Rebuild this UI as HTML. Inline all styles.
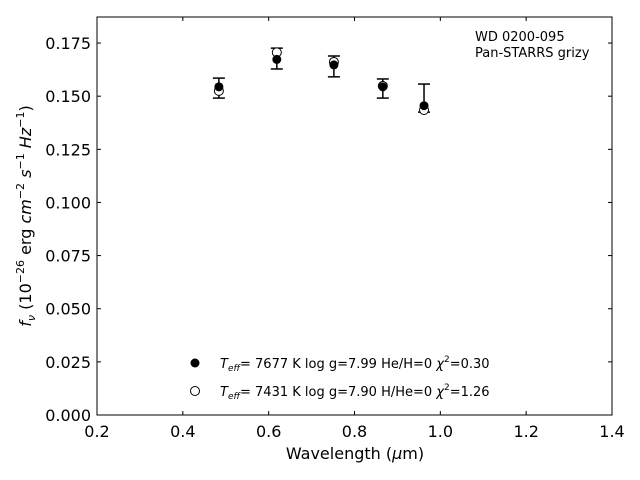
<!DOCTYPE html>
<html><head><meta charset="utf-8"><style>
html,body{margin:0;padding:0;background:#fff;}
svg{display:block;font-family:"DejaVu Sans","Liberation Sans",sans-serif;}
</style></head><body>
<svg id="chart" width="640" height="480" viewBox="0 0 640 480">
<rect x="0" y="0" width="640" height="480" fill="#fff"/>
<g id="marks"></g>
<rect x="97" y="17" width="515" height="398" fill="none" stroke="#000" stroke-width="1"/>
<g id="axes"></g>
<text x="355" y="459" text-anchor="middle" font-size="16">Wavelength (<tspan font-style="italic">μ</tspan>m)</text>
<text transform="translate(31,216) rotate(-90)" text-anchor="middle" font-size="16"><tspan font-style="italic">f</tspan><tspan font-style="italic" font-size="11" dy="4">ν</tspan><tspan dy="-4"> (10</tspan><tspan font-size="11" dy="-7">−26</tspan><tspan dy="7"> erg </tspan><tspan font-style="italic">cm</tspan><tspan font-size="11" dy="-7">−2</tspan><tspan dy="7"> </tspan><tspan font-style="italic">s</tspan><tspan font-size="11" dy="-7">−1</tspan><tspan dy="7"> </tspan><tspan font-style="italic">Hz</tspan><tspan font-size="11" dy="-7">−1</tspan><tspan dy="7">)</tspan></text>
<text x="475" y="41" font-size="13">WD 0200-095</text>
<text x="475" y="57" font-size="13">Pan-STARRS grizy</text>
<g>
<circle cx="195" cy="363" r="4.5" fill="#000"/>
<text x="220" y="368" font-size="13"><tspan font-style="italic">T</tspan><tspan font-style="italic" font-size="9" dy="3">eff</tspan><tspan dy="-3">=  7677 K  log g=7.99  He/H=0  </tspan><tspan font-style="italic">χ</tspan><tspan font-size="9" dy="-6">2</tspan><tspan dy="6">=0.30</tspan></text>
<circle cx="195" cy="391" r="4.5" fill="#fff" stroke="#000" stroke-width="1"/>
<text x="220" y="396" font-size="13"><tspan font-style="italic">T</tspan><tspan font-style="italic" font-size="9" dy="3">eff</tspan><tspan dy="-3">=  7431 K  log g=7.90  H/He=0  </tspan><tspan font-style="italic">χ</tspan><tspan font-size="9" dy="-6">2</tspan><tspan dy="6">=1.26</tspan></text>
</g>
</svg>
<script>
const wavelengths = [0.484, 0.619, 0.752, 0.866, 0.962];
const observedFlux = [0.1538, 0.1677, 0.1640, 0.1536, 0.1491];
const fluxErrors = [0.0047, 0.0049, 0.0049, 0.0045, 0.0066];
const modelHeH = [0.1544, 0.1673, 0.1647, 0.1544, 0.1455];
const modelHHe = [0.1525, 0.1706, 0.1661, 0.1548, 0.1435];
const xTicks = [0.2, 0.4, 0.6, 0.8, 1.0, 1.2, 1.4];
const xTickLabels = ["0.2","0.4","0.6","0.8","1.0","1.2","1.4"];
const yTicks = [0, 0.025, 0.05, 0.075, 0.1, 0.125, 0.15, 0.175];
const yTickLabels = ["0.000","0.025","0.050","0.075","0.100","0.125","0.150","0.175"];

const NS = "http://www.w3.org/2000/svg";
const L = 97, R = 612, T = 17, B = 415;
const xMin = 0.2, xMax = 1.4, yMin = 0, yMax = 0.18725;
const X = v => L + (v - xMin) / (xMax - xMin) * (R - L);
const Y = v => B - (v - yMin) / (yMax - yMin) * (B - T);
function mk(tag, attrs, parent){ const e = document.createElementNS(NS, tag); for (const k in attrs) e.setAttribute(k, attrs[k]); parent.appendChild(e); return e; }
const axes = document.getElementById("axes");
const marks = document.getElementById("marks");

xTicks.forEach((t, i) => {
  const x = X(t);
  const a = mk("line", {x1:x, y1:B, x2:x, y2:B-4, stroke:"#000"}, axes);
  
  
  const b = mk("line", {x1:x, y1:T, x2:x, y2:T+4, stroke:"#000"}, axes);
  
  
  const tx = mk("text", {x:x, y:B+22, "text-anchor":"middle", "font-size":"16"}, axes);
  tx.textContent = xTickLabels[i];
  
  
});
yTicks.forEach((t, i) => {
  const y = Y(t);
  const a = mk("line", {x1:L, y1:y, x2:L+4, y2:y, stroke:"#000"}, axes);
  
  
  const b = mk("line", {x1:R, y1:y, x2:R-4, y2:y, stroke:"#000"}, axes);
  
  
  const tx = mk("text", {x:L-6, y:y+6, "text-anchor":"end", "font-size":"16"}, axes);
  tx.textContent = yTickLabels[i];
  
  
});

wavelengths.forEach((w, i) => {
  const x = X(w);
  const y1 = Y(observedFlux[i] + fluxErrors[i]), y2 = Y(observedFlux[i] - fluxErrors[i]);
  const g = mk("g", {stroke:"#000", "stroke-width":"1.5"}, marks);
  
  
  mk("line", {x1:x, y1:y1, x2:x, y2:y2}, g);
  mk("line", {x1:x-6, y1:y1, x2:x+6, y2:y1}, g);
  mk("line", {x1:x-6, y1:y2, x2:x+6, y2:y2}, g);
  const o = mk("circle", {cx:x, cy:Y(modelHHe[i]), r:4.5, fill:"#fff", stroke:"#000", "stroke-width":"1"}, marks);
  
  
  const f = mk("circle", {cx:x, cy:Y(modelHeH[i]), r:4.5, fill:"#000"}, marks);
  
  
});
</script>
</body></html>
